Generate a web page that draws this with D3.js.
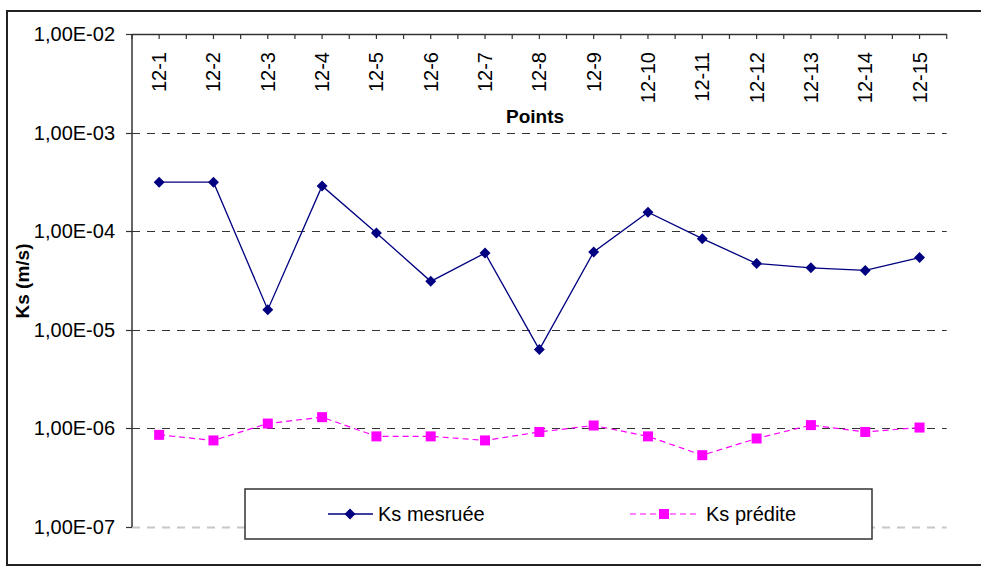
<!DOCTYPE html>
<html>
<head>
<meta charset="utf-8">
<script src="https://cdn.jsdelivr.net/npm/d3@7"></script>
<style>
  html, body { margin: 0; padding: 0; background: #fff; }
  svg { display: block; font-family: "Liberation Sans", Arial, sans-serif; }
</style>
</head>
<body>
<svg id="chart" width="981" height="570"></svg>
<script>
const categories = ["12-1","12-2","12-3","12-4","12-5","12-6","12-7","12-8","12-9","12-10","12-11","12-12","12-13","12-14","12-15"];
const ksMesuree = [3.14e-4, 3.14e-4, 1.60e-5, 2.88e-4, 9.6e-5, 3.10e-5, 6.0e-5, 6.3e-6, 6.15e-5, 1.56e-4, 8.4e-5, 4.7e-5, 4.25e-5, 4.0e-5, 5.4e-5];
const ksPredite = [8.6e-7, 7.55e-7, 1.12e-6, 1.30e-6, 8.3e-7, 8.3e-7, 7.55e-7, 9.2e-7, 1.07e-6, 8.3e-7, 5.35e-7, 7.9e-7, 1.08e-6, 9.2e-7, 1.02e-6];
const yTicks = [1e-2, 1e-3, 1e-4, 1e-5, 1e-6, 1e-7];
const yTickLabels = ["1,00E-02","1,00E-03","1,00E-04","1,00E-05","1,00E-06","1,00E-07"];
const seriesNames = ["Ks mesruée", "Ks prédite"];

const svg = d3.select("#chart");
const L = 132, R = 946.7, T = 34, B = 527;

// outer border
svg.append("rect").attr("x", 7).attr("y", 11).attr("width", 990).attr("height", 554)
  .attr("fill", "none").attr("stroke", "#222").attr("stroke-width", 2);

const x = d3.scaleBand().domain(categories).range([L, R]);
const xc = c => x(c) + x.bandwidth() / 2;
const y = d3.scaleLog().domain([1e-7, 1e-2]).range([B, T]);

// gridlines
svg.append("g").selectAll("line").data(yTicks.filter(v => v < 1e-2)).join("line")
  .attr("x1", L).attr("x2", R)
  .attr("y1", d => Math.round(y(d)) + 0.5).attr("y2", d => Math.round(y(d)) + 0.5)
  .attr("stroke", d => d === 1e-7 ? "#c8c8c8" : "#333")
  .attr("stroke-width", d => d === 1e-7 ? 2 : 1.2)
  .attr("stroke-dasharray", "8,7");

// y axis
const yAxis = svg.append("g");
yAxis.append("line").attr("x1", L).attr("x2", L).attr("y1", T).attr("y2", B)
  .attr("stroke", "#333").attr("stroke-width", 1.5);
yAxis.selectAll("line.tk").data(yTicks).join("line").attr("class", "tk")
  .attr("x1", L - 6).attr("x2", L)
  .attr("y1", d => Math.round(y(d)) + 0.5).attr("y2", d => Math.round(y(d)) + 0.5)
  .attr("stroke", "#333").attr("stroke-width", 1.2);
yAxis.selectAll("text").data(yTicks).join("text")
  .attr("x", 115).attr("y", d => y(d)).attr("dy", "0.35em")
  .attr("text-anchor", "end").attr("font-size", 20).attr("fill", "#000")
  .text((d, i) => yTickLabels[i]);

// top category axis
const xAxis = svg.append("g");
xAxis.append("line").attr("x1", L).attr("x2", R).attr("y1", T + 0.5).attr("y2", T + 0.5)
  .attr("stroke", "#333").attr("stroke-width", 1.5);
const tickPos = [];
categories.forEach(c => { tickPos.push(x(c)); tickPos.push(xc(c)); });
tickPos.push(R);
xAxis.selectAll("line.tk").data(tickPos).join("line").attr("class", "tk")
  .attr("x1", d => d).attr("x2", d => d).attr("y1", T).attr("y2", T + 5)
  .attr("stroke", "#333").attr("stroke-width", 1.2);
xAxis.selectAll("text").data(categories).join("text")
  .attr("transform", d => `translate(${xc(d) + 7},52) rotate(-90)`)
  .attr("text-anchor", "end").attr("font-size", 20).attr("fill", "#000")
  .text(d => d);

// axis titles
svg.append("text").attr("x", 535).attr("y", 123).attr("text-anchor", "middle")
  .attr("font-size", 19).attr("font-weight", "bold").text("Points");
svg.append("text").attr("transform", "translate(29,281) rotate(-90)")
  .attr("text-anchor", "middle").attr("font-size", 19).attr("font-weight", "bold").text("Ks (m/s)");

// series
const line1 = d3.line().x((d, i) => xc(categories[i])).y(d => y(d));
svg.append("path").datum(ksMesuree).attr("d", line1)
  .attr("fill", "none").attr("stroke", "#000080").attr("stroke-width", 1.3);
svg.append("path").datum(ksPredite).attr("d", line1)
  .attr("fill", "none").attr("stroke", "#FF00FF").attr("stroke-width", 1.2).attr("stroke-dasharray", "6,4");

const diamond = d3.symbol().type(d3.symbolSquare).size(60);
svg.append("g").selectAll("path").data(ksMesuree).join("path")
  .attr("d", diamond())
  .attr("transform", (d, i) => `translate(${xc(categories[i])},${y(d)}) rotate(45)`)
  .attr("fill", "#000080");
svg.append("g").selectAll("rect").data(ksPredite).join("rect")
  .attr("x", (d, i) => xc(categories[i]) - 5).attr("y", d => y(d) - 5)
  .attr("width", 10).attr("height", 10).attr("fill", "#FF00FF");

// legend
const lg = svg.append("g");
lg.append("rect").attr("x", 245).attr("y", 489).attr("width", 627).attr("height", 50)
  .attr("fill", "#fff").attr("stroke", "#333").attr("stroke-width", 1.5);
const ly = 514;
lg.append("line").attr("x1", 328).attr("x2", 373).attr("y1", ly).attr("y2", ly)
  .attr("stroke", "#000080").attr("stroke-width", 1.3);
lg.append("path").attr("d", diamond()).attr("transform", `translate(350,${ly}) rotate(45)`).attr("fill", "#000080");
lg.append("text").attr("x", 378).attr("y", ly).attr("dy", "0.35em").attr("font-size", 20).text(seriesNames[0]);
lg.append("line").attr("x1", 630).attr("x2", 698).attr("y1", ly).attr("y2", ly)
  .attr("stroke", "#FF00FF").attr("stroke-width", 1.2).attr("stroke-dasharray", "6,4");
lg.append("rect").attr("x", 659).attr("y", ly - 5).attr("width", 10).attr("height", 10).attr("fill", "#FF00FF");
lg.append("text").attr("x", 706).attr("y", ly).attr("dy", "0.35em").attr("font-size", 20).text(seriesNames[1]);
</script>
</body>
</html>
